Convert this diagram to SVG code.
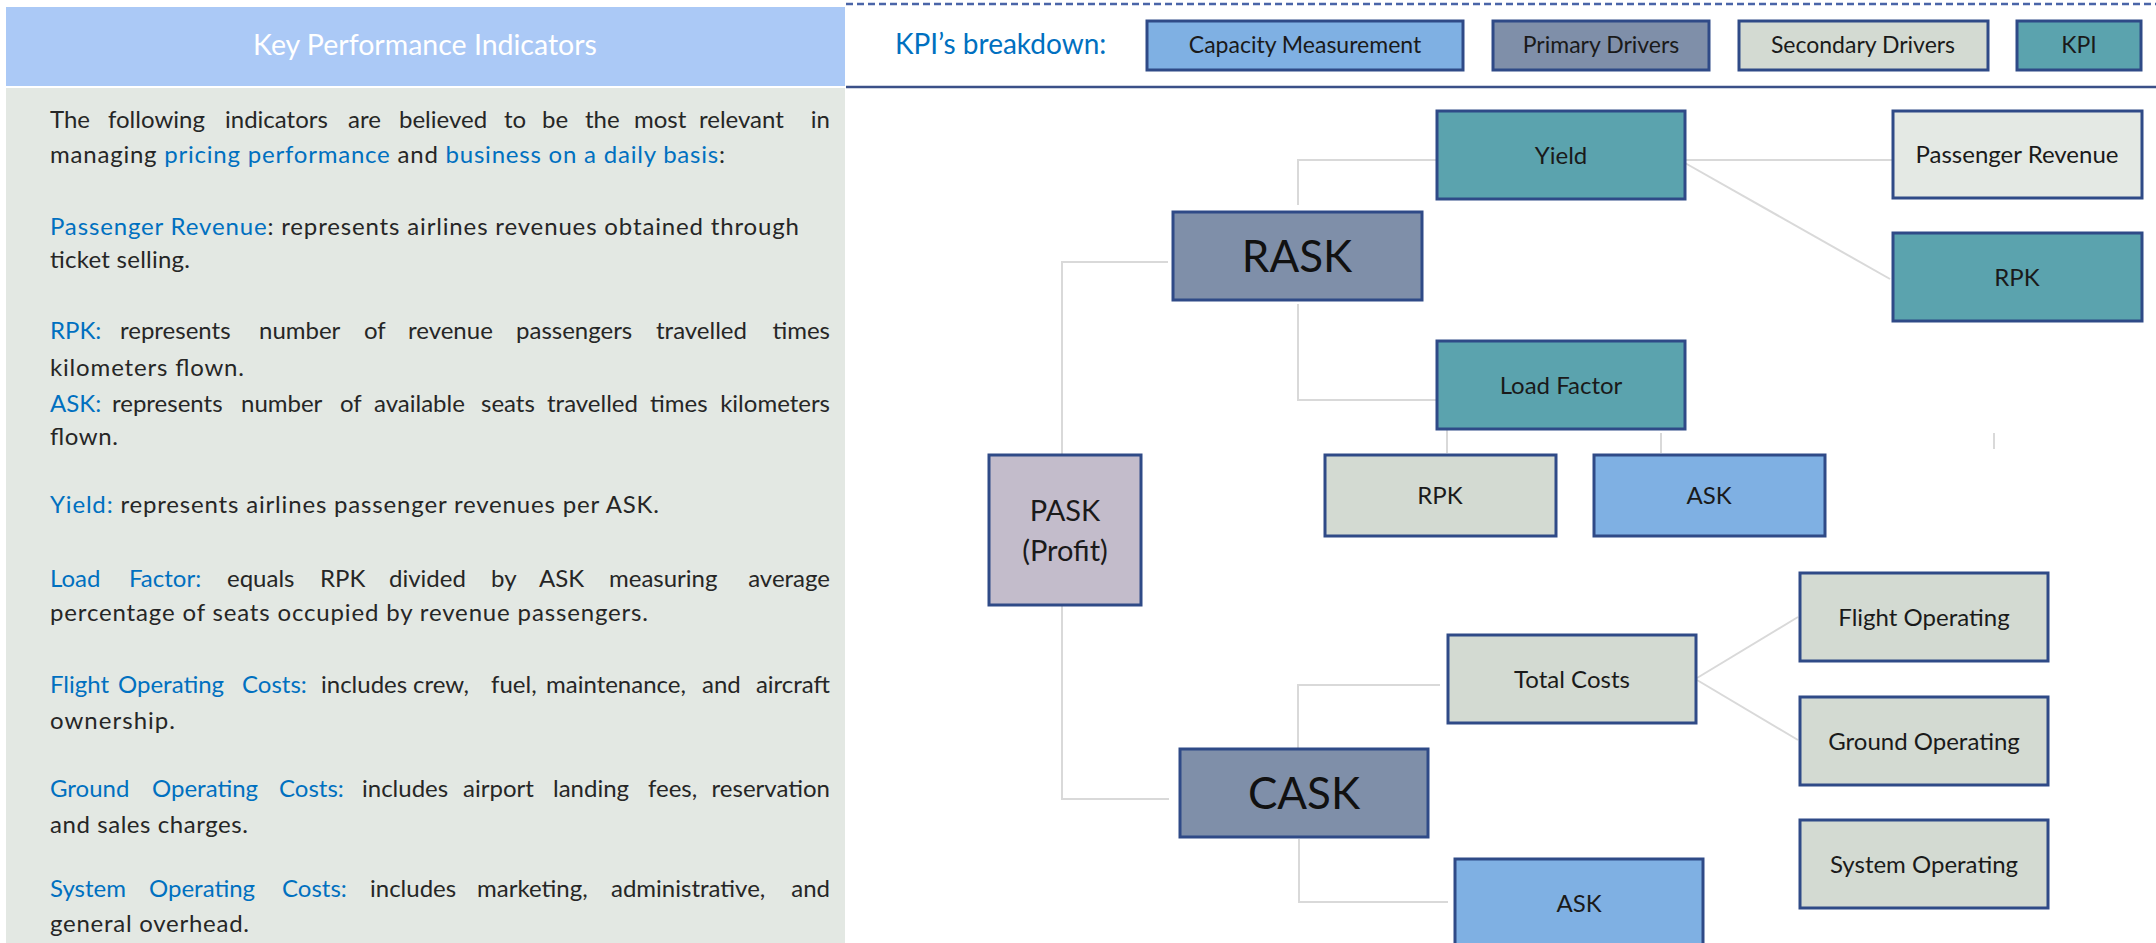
<svg xmlns="http://www.w3.org/2000/svg" width="2156" height="943" viewBox="0 0 2156 943">
<style>
text{font-family:Lato,"Liberation Sans",sans-serif;}
.body{font-size:24px;fill:#262626;}
.hl{fill:#0070c0;}
.node{stroke:#2f4a87;stroke-width:3;}
.teal{fill:#5ba3ae;}
.prim{fill:#7f8fa9;}
.sec{fill:#d3dad2;}
.cap{fill:#7fb0e3;}
.light{fill:#e4e9e4;}
.pask{fill:#c3bccb;}
.lbl{font-size:24px;fill:#1a1a1a;text-anchor:middle;}
.big{font-size:44px;fill:#111;text-anchor:middle;}
.leg{font-size:23px;fill:#1a1a1a;text-anchor:middle;}
.conn{fill:none;stroke:#d9d9d9;stroke-width:2;}
</style>
<rect width="2156" height="943" fill="#ffffff"/>
<g id="left-panel">
<rect x="6" y="7" width="839" height="79" fill="#abc9f6"/>
<text x="425" y="55" font-size="28.5" fill="#ffffff" text-anchor="middle">Key Performance Indicators</text>
<rect x="6" y="88" width="839" height="855" fill="#e3e8e3"/>
<text class="body" y="128"><tspan x="50">The</tspan><tspan x="108">following</tspan><tspan x="225">indicators</tspan><tspan x="348">are</tspan><tspan x="399">believed</tspan><tspan x="504">to</tspan><tspan x="542">be</tspan><tspan x="585">the</tspan><tspan x="634">most</tspan><tspan x="699">relevant</tspan><tspan x="830" text-anchor="end">in</tspan></text>
<text class="body" x="50" y="163" textLength="675" lengthAdjust="spacing">managing <tspan class="hl">pricing performance</tspan> and <tspan class="hl">business on a daily basis</tspan>:</text>
<text class="body" x="50" y="235" textLength="749" lengthAdjust="spacing"><tspan class="hl">Passenger Revenue</tspan>: represents airlines revenues obtained through</text>
<text class="body" x="50" y="268" textLength="140" lengthAdjust="spacing">ticket selling.</text>
<text class="body" y="339"><tspan x="50" class="hl">RPK:</tspan><tspan x="120">represents</tspan><tspan x="259">number</tspan><tspan x="364">of</tspan><tspan x="408">revenue</tspan><tspan x="516">passengers</tspan><tspan x="656">travelled</tspan><tspan x="830" text-anchor="end">times</tspan></text>
<text class="body" x="50" y="376" textLength="194" lengthAdjust="spacing">kilometers flown.</text>
<text class="body" y="412"><tspan x="50" class="hl">ASK:</tspan><tspan x="112">represents</tspan><tspan x="241">number</tspan><tspan x="340">of</tspan><tspan x="374">available</tspan><tspan x="481">seats</tspan><tspan x="547">travelled</tspan><tspan x="650">times</tspan><tspan x="830" text-anchor="end">kilometers</tspan></text>
<text class="body" x="50" y="445" textLength="68" lengthAdjust="spacing">flown.</text>
<text class="body" x="50" y="513" textLength="609" lengthAdjust="spacing"><tspan class="hl">Yield:</tspan> represents airlines passenger revenues per ASK.</text>
<text class="body" y="587"><tspan x="50" class="hl">Load</tspan><tspan x="129" class="hl">Factor:</tspan><tspan x="227">equals</tspan><tspan x="320">RPK</tspan><tspan x="389">divided</tspan><tspan x="491">by</tspan><tspan x="539">ASK</tspan><tspan x="609">measuring</tspan><tspan x="830" text-anchor="end">average</tspan></text>
<text class="body" x="50" y="621" textLength="598" lengthAdjust="spacing">percentage of seats occupied by revenue passengers.</text>
<text class="body" y="693"><tspan x="50" class="hl">Flight</tspan><tspan x="118" class="hl">Operating</tspan><tspan x="242" class="hl">Costs:</tspan><tspan x="321">includes</tspan><tspan x="413">crew,</tspan><tspan x="491">fuel,</tspan><tspan x="546">maintenance,</tspan><tspan x="702">and</tspan><tspan x="830" text-anchor="end">aircraft</tspan></text>
<text class="body" x="50" y="729" textLength="125" lengthAdjust="spacing">ownership.</text>
<text class="body" y="797"><tspan x="50" class="hl">Ground</tspan><tspan x="152" class="hl">Operating</tspan><tspan x="279" class="hl">Costs:</tspan><tspan x="362">includes</tspan><tspan x="463">airport</tspan><tspan x="553">landing</tspan><tspan x="648">fees,</tspan><tspan x="830" text-anchor="end">reservation</tspan></text>
<text class="body" x="50" y="833" textLength="198" lengthAdjust="spacing">and sales charges.</text>
<text class="body" y="897"><tspan x="50" class="hl">System</tspan><tspan x="149" class="hl">Operating</tspan><tspan x="282" class="hl">Costs:</tspan><tspan x="370">includes</tspan><tspan x="477">marketing,</tspan><tspan x="611">administrative,</tspan><tspan x="830" text-anchor="end">and</tspan></text>
<text class="body" x="50" y="932" textLength="199" lengthAdjust="spacing">general overhead.</text>
</g>
<g id="legend">
<line x1="846" y1="4" x2="2156" y2="4" stroke="#4a65a8" stroke-width="2.5" stroke-dasharray="7 4"/>
<line x1="846" y1="87" x2="2156" y2="87" stroke="#3b5088" stroke-width="2.5"/>
<text x="895" y="54" font-size="28" fill="#0070c0">KPI’s breakdown:</text>
<g id="legend-capacity"><rect class="node cap" x="1147" y="21" width="316" height="49"/><text class="leg" x="1305" y="53">Capacity Measurement</text></g>
<g id="legend-primary"><rect class="node prim" x="1493" y="21" width="216" height="49"/><text class="leg" x="1601" y="53">Primary Drivers</text></g>
<g id="legend-secondary"><rect class="node sec" x="1739" y="21" width="249" height="49"/><text class="leg" x="1863" y="53">Secondary Drivers</text></g>
<g id="legend-kpi"><rect class="node teal" x="2017" y="21" width="124" height="49"/><text class="leg" x="2079" y="53">KPI</text></g>
</g>
<g id="connectors">
<path class="conn" d="M1298,205 V160 H1437"/>
<path class="conn" d="M1298,304 V400 H1437"/>
<path class="conn" d="M1062,455 V262 H1168"/>
<path class="conn" d="M1062,605 V799 H1169"/>
<path class="conn" d="M1447,429 V453"/>
<path class="conn" d="M1661,433 V453"/>
<path class="conn" d="M1685,160 H1892"/>
<path class="conn" d="M1685,163 L1890,279"/>
<path class="conn" d="M1994,433 V449"/>
<path class="conn" d="M1298,748 V685 H1440"/>
<path class="conn" d="M1299,839 V902 H1448"/>
<path class="conn" d="M1697,678 L1798,617"/>
<path class="conn" d="M1697,680 L1798,740"/>
</g>
<g id="node-yield"><rect class="node teal" x="1437" y="111" width="248" height="88"/><text class="lbl" x="1561" y="164">Yield</text></g>
<g id="node-passenger-revenue"><rect class="node light" x="1893" y="111" width="249" height="87"/><text class="lbl" x="2017" y="163">Passenger Revenue</text></g>
<g id="node-rpk-kpi"><rect class="node teal" x="1893" y="233" width="249" height="88"/><text class="lbl" x="2017" y="286">RPK</text></g>
<g id="node-rask"><rect class="node prim" x="1173" y="212" width="249" height="88"/><text class="big" x="1297" y="272">RASK</text></g>
<g id="node-load-factor"><rect class="node teal" x="1437" y="341" width="248" height="88"/><text class="lbl" x="1561" y="394">Load Factor</text></g>
<g id="node-rpk"><rect class="node sec" x="1325" y="455" width="231" height="81"/><text class="lbl" x="1440" y="504">RPK</text></g>
<g id="node-ask-top"><rect class="node cap" x="1594" y="455" width="231" height="81"/><text class="lbl" x="1709" y="504">ASK</text></g>
<g id="node-pask"><rect class="node pask" x="989" y="455" width="152" height="150"/><text x="1065" y="521" font-size="29" fill="#1a1a1a" text-anchor="middle">PASK</text><text x="1065" y="561" font-size="29" fill="#1a1a1a" text-anchor="middle">(Profit)</text></g>
<g id="node-total-costs"><rect class="node sec" x="1448" y="635" width="248" height="88"/><text class="lbl" x="1572" y="688">Total Costs</text></g>
<g id="node-flight-operating"><rect class="node sec" x="1800" y="573" width="248" height="88"/><text class="lbl" x="1924" y="626">Flight Operating</text></g>
<g id="node-ground-operating"><rect class="node sec" x="1800" y="697" width="248" height="88"/><text class="lbl" x="1924" y="750">Ground Operating</text></g>
<g id="node-system-operating"><rect class="node sec" x="1800" y="820" width="248" height="88"/><text class="lbl" x="1924" y="873">System Operating</text></g>
<g id="node-cask"><rect class="node prim" x="1180" y="749" width="248" height="88"/><text class="big" x="1304" y="809">CASK</text></g>
<g id="node-ask-bottom"><rect class="node cap" x="1455" y="859" width="248" height="100"/><text class="lbl" x="1579" y="912">ASK</text></g>
</svg>
